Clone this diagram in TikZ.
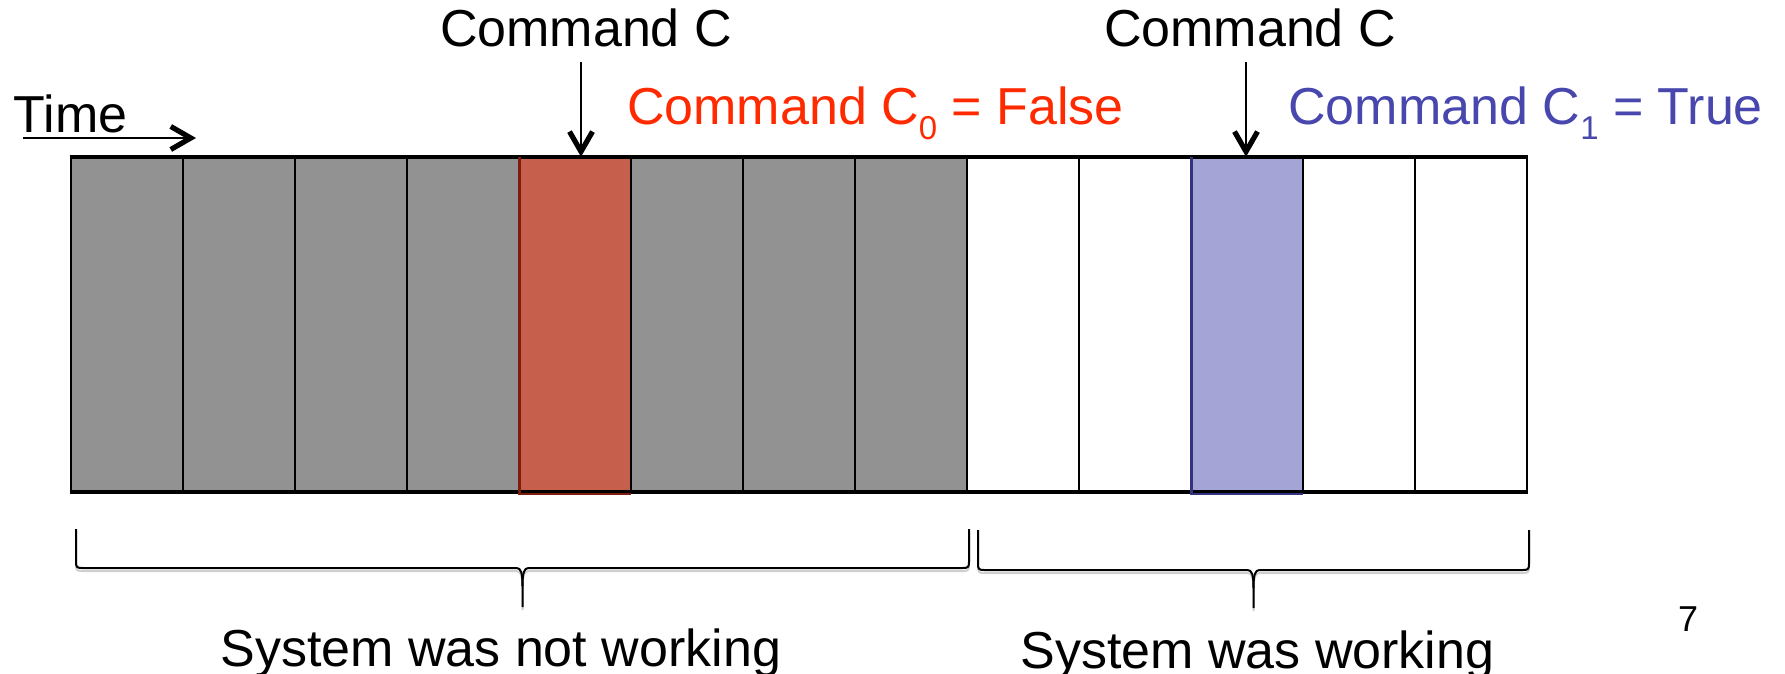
\documentclass[tikz,border=0pt]{standalone}
\usepackage{fontspec}
\setmainfont{Liberation Sans}
\usetikzlibrary{arrows.meta,calc}

\definecolor{cellgray}{HTML}{929292}
\definecolor{cellred}{HTML}{C65F4B}
\definecolor{cellrededge}{HTML}{7E1C0E}
\definecolor{cellblue}{HTML}{A4A5D6}
\definecolor{cellblueedge}{HTML}{34347E}
\definecolor{txtred}{HTML}{FF2A00}
\definecolor{txtblue}{HTML}{4747AE}
\definecolor{braceshadow}{HTML}{CFCFCF}

% lowered small index after a letter
\newcommand\lowidx[1]{\raisebox{-7.25pt}{\fontsize{16.5}{18}\selectfont #1}}

\begin{document}
\begin{tikzpicture}[x=0.5pt,y=-0.5pt,
  lbl/.style={inner sep=0pt, font=\fontsize{26}{30}\selectfont},
  cell/.style={rectangle, inner sep=0pt, minimum width=56pt, minimum height=166.5pt,
               draw=black, line width=1pt},
  conn/.style={line width=0.8pt, -{Straight Barb[length=10pt,width=11.5pt,line width=2.6pt]}},
  bracepath/.style={line width=1pt, line join=round},
]
\useasboundingbox (0,0) rectangle (1785,674);

% time line cells
\foreach \i/\f in {0/cellgray,1/cellgray,2/cellgray,3/cellgray,4/cellred,5/cellgray,
                   6/cellgray,7/cellgray,8/white,9/white,10/cellblue,11/white,12/white}
  \node[cell, fill=\f] (c\i) at ({126.6+112*\i},324.3) {};

% heavier outer edges of the strip
\draw[line width=1.5pt] (c0.north west) -- (c12.north east);
\draw[line width=2pt] (c0.south west) -- (c12.south east);

% darker inner edges of the highlighted cells, reaching just below the strip
\draw[cellrededge, line width=1.2pt] ([xshift=1pt]c4.north west) -- ([xshift=1pt,yshift=-1.2pt]c4.south west) -- ([xshift=-0.5pt,yshift=-1.2pt]c4.south east);
\draw[cellblueedge, line width=1.2pt] ([xshift=1pt]c10.north west) -- ([xshift=1pt,yshift=-1.2pt]c10.south west) -- ([xshift=-0.5pt,yshift=-1.2pt]c10.south east);

% time label and its arrow
\node[lbl, anchor=base west] (time) at (13.4,133) {Time};
\coordinate (tend) at (196,138);
\draw[conn] ([xshift=4.8pt,yshift=-2.5pt]time.base west) -- (tend);

% command labels and arrows
\node[lbl, anchor=base] (cmdA) at (586,47) {Command C};
\node[lbl, anchor=base] (cmdB) at (1250,47) {Command C};
\coordinate (a1) at (581,62);
\coordinate (a2) at (1246,62);
\draw[conn] (a1) -- (a1 |- c4.north);
\draw[conn] (a2) -- (a2 |- c10.north);

\node[lbl, anchor=base west, text=txtred] (res0) at (626.7,125) {Command C\lowidx{0} = False};
\node[lbl, anchor=base west, text=txtblue] (res1) at (1288,125) {Command C\lowidx{1} = True};

% braces under the strip
\foreach \xa/\xb/\yt/\yh/\yb in {76/969/529/568/607, 978/1529/530/570/608}{
  \pgfmathsetmacro\xm{(\xa+\xb)/2}
  \foreach \col/\dy in {braceshadow/3, black/0}{
    \draw[bracepath, \col]
      (\xa,\yt+\dy) -- (\xa,\yh-6+\dy) .. controls (\xa,\yh-1+\dy) and (\xa+1,\yh+\dy) .. (\xa+6,\yh+\dy)
      -- (\xm-6,\yh+\dy) .. controls (\xm-1.5,\yh+\dy) and (\xm,\yh+5+\dy) .. (\xm,\yh+18+\dy)
      -- (\xm,\yb+\dy);
    \draw[bracepath, \col]
      (\xm,\yh+18+\dy) .. controls (\xm,\yh+5+\dy) and (\xm+1.5,\yh+\dy) .. (\xm+6,\yh+\dy)
      -- (\xb-6,\yh+\dy) .. controls (\xb-1,\yh+\dy) and (\xb,\yh-1+\dy) .. (\xb,\yh-6+\dy)
      -- (\xb,\yt+\dy);
  }
}

\node[lbl, anchor=base west] (down) at (220,666.7) {System was not working};
\node[lbl, anchor=base west] (up) at (1020,668) {System was working};

\node[inner sep=0pt, font=\fontsize{18}{20}\selectfont, anchor=base] (pg) at (1688,631) {7};
\end{tikzpicture}
\end{document}
